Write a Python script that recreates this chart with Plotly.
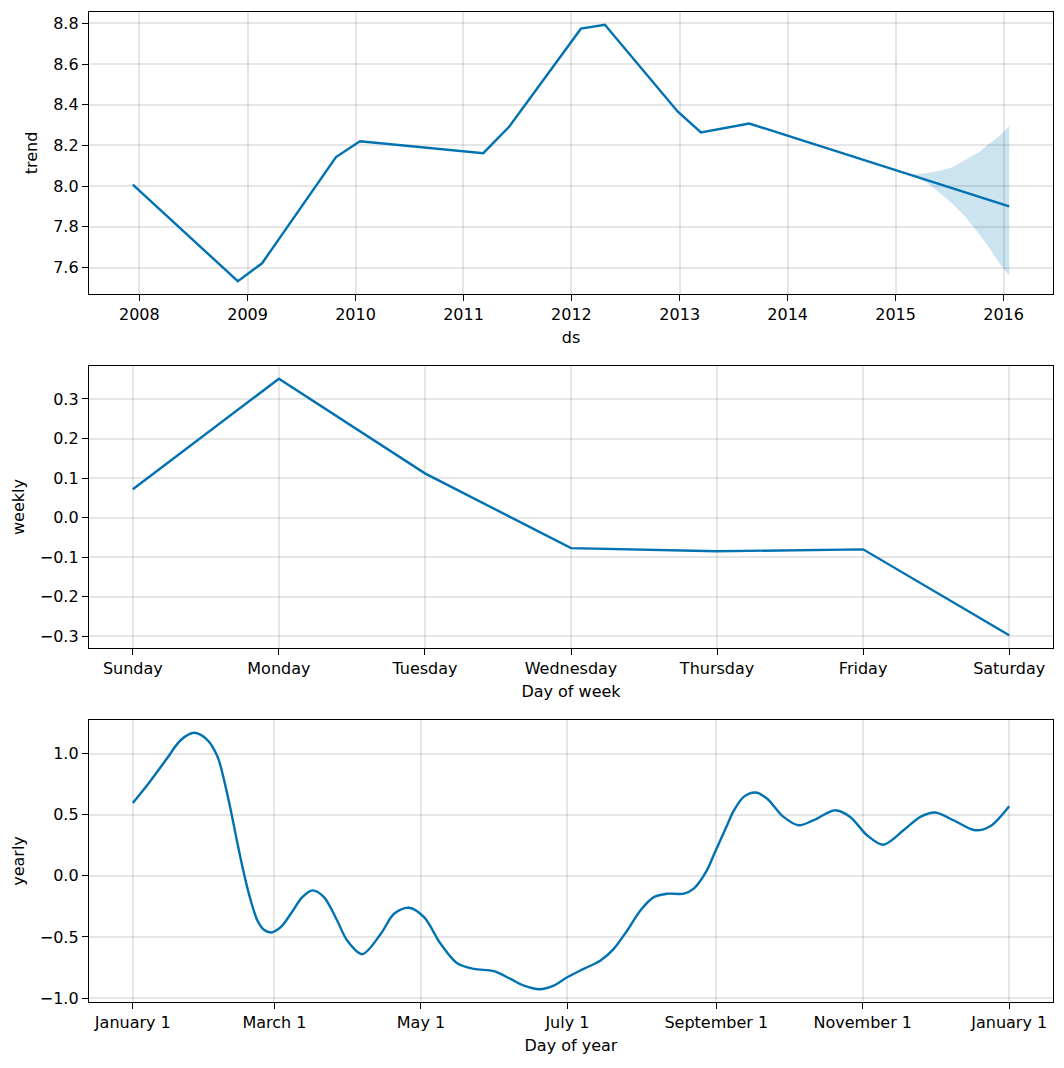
import pandas as pd
import plotly.graph_objects as go
from plotly.subplots import make_subplots

# ---------------- data ----------------
trend_dates = ["2007-12-10", "2008-11-29", "2009-02-19", "2009-10-27", "2010-01-16",
               "2011-03-09", "2011-06-05", "2012-02-02", "2012-04-23", "2012-12-25",
               "2013-03-14", "2013-08-24", "2016-01-20"]
trend_values = [8.007, 7.533, 7.621, 8.143, 8.221, 8.162, 8.293, 8.774, 8.793, 8.367,
                8.264, 8.308, 7.901]

band_dates = ["2015-01-20", "2015-02-28", "2015-04-14", "2015-05-28", "2015-07-12",
              "2015-08-26", "2015-10-10", "2015-11-13", "2015-12-16", "2016-01-20"]
band_upper = [8.072, 8.057, 8.064, 8.074, 8.093, 8.130, 8.167, 8.208, 8.243, 8.294]
band_lower = [8.072, 8.050, 8.019, 7.970, 7.913, 7.847, 7.765, 7.699, 7.625, 7.560]

week_days = ["Sunday", "Monday", "Tuesday", "Wednesday", "Thursday", "Friday", "Saturday"]
weekly_values = [0.072, 0.351, 0.112, -0.077, -0.085, -0.080, -0.297]

year_days = [0, 6.7, 13.9, 20.0, 25.5, 31.1, 35.3, 38.0, 40.8, 43.6, 46.3, 49.1, 51.9,
             54.6, 57.7, 61.6, 65.8, 70.6, 74.8, 79.6, 85.1, 89.3, 95.6, 103.3, 108.8,
             115.0, 121.3, 128.2, 135.1, 142.1, 150.4, 157.3, 162.9, 169.5, 175.0,
             180.9, 187.8, 194.8, 200.3, 205.9, 211.4, 217.0, 222.5, 229.5, 233.6,
             239.1, 241.9, 244.7, 247.5, 250.2, 254.4, 259.3, 264.1, 271.0, 277.3,
             283.5, 292.6, 298.8, 305.8, 312.5, 321.0, 328.0, 334.2, 341.8, 350.9,
             357.1, 365.0]
yearly_values = [0.596, 0.760, 0.951, 1.111, 1.170, 1.111, 0.974, 0.783, 0.537, 0.264,
                 0.018, -0.201, -0.365, -0.441, -0.463, -0.420, -0.310, -0.174, -0.119,
                 -0.174, -0.365, -0.529, -0.640, -0.474, -0.310, -0.261, -0.338, -0.556,
                 -0.715, -0.761, -0.780, -0.843, -0.898, -0.927, -0.900, -0.830, -0.761,
                 -0.693, -0.597, -0.447, -0.283, -0.174, -0.146, -0.146, -0.105, 0.045,
                 0.168, 0.291, 0.414, 0.529, 0.646, 0.682, 0.633, 0.482, 0.414, 0.455,
                 0.537, 0.482, 0.332, 0.255, 0.373, 0.482, 0.518, 0.455, 0.373, 0.406,
                 0.570]

year_ticks = ["2008", "2009", "2010", "2011", "2012", "2013", "2014", "2015", "2016"]
month_tick_dates = ["2017-01-01", "2017-03-01", "2017-05-01", "2017-07-01",
                    "2017-09-01", "2017-11-01", "2018-01-01"]
month_tick_labels = ["January 1", "March 1", "May 1", "July 1", "September 1",
                     "November 1", "January 1"]

trend_ticks = [7.6, 7.8, 8.0, 8.2, 8.4, 8.6, 8.8]
weekly_ticks = [-0.3, -0.2, -0.1, 0.0, 0.1, 0.2, 0.3]
yearly_ticks = [-1.0, -0.5, 0.0, 0.5, 1.0]

# ---------------- helpers ----------------
LINE = "#0072B2"
FONT = "DejaVu Sans"
FS = 16


def fmt(v, nd=1):
    s = f"{v:.{nd}f}"
    return s.replace("-", "\u2212")


def pad_range(lo, hi, frac=0.05):
    span = hi - lo
    return [lo - frac * span, hi + frac * span]


fig = make_subplots(rows=3, cols=1, vertical_spacing=0.0725)

# trend
td = pd.to_datetime(trend_dates)
bd = pd.to_datetime(band_dates)
fig.add_trace(go.Scatter(x=bd, y=band_upper, mode="lines", line=dict(width=0, color=LINE),
                         showlegend=False, hoverinfo="skip"), row=1, col=1)
fig.add_trace(go.Scatter(x=bd, y=band_lower, mode="lines", line=dict(width=0, color=LINE),
                         fill="tonexty", fillcolor="rgba(0,114,178,0.2)",
                         showlegend=False, hoverinfo="skip"), row=1, col=1)
fig.add_trace(go.Scatter(x=td, y=trend_values, mode="lines",
                         line=dict(color=LINE, width=2.4), showlegend=False), row=1, col=1)

# weekly
fig.add_trace(go.Scatter(x=list(range(len(week_days))), y=weekly_values, mode="lines",
                         line=dict(color=LINE, width=2.4), showlegend=False), row=2, col=1)

# yearly
yd = pd.Timestamp("2017-01-01") + pd.to_timedelta(year_days, unit="D")
fig.add_trace(go.Scatter(x=yd, y=yearly_values, mode="lines",
                         line=dict(color=LINE, width=2.4, shape="spline", smoothing=0.9),
                         showlegend=False), row=3, col=1)

# ranges (matplotlib-like 5% margins)
t_all = list(td) + list(bd)
t0, t1 = min(t_all), max(t_all)
tspan = t1 - t0
trend_xr = [t0 - 0.05 * tspan, t1 + 0.05 * tspan]
trend_yr = pad_range(min(trend_values + band_lower), max(trend_values + band_upper))
week_xr = pad_range(0, len(week_days) - 1)
week_yr = pad_range(min(weekly_values), max(weekly_values))
y0, y1 = min(yd), max(yd)
yspan = y1 - y0
year_xr = [y0 - 0.05 * yspan, y1 + 0.05 * yspan]
year_yr = pad_range(min(yearly_values), max(yearly_values))

axis_common = dict(showline=True, mirror=True, linecolor="black", linewidth=1.3,
                   ticks="outside", ticklen=6, tickwidth=1.2, tickcolor="black",
                   showgrid=True, gridcolor="rgba(128,128,128,0.2)", gridwidth=1.6,
                   zeroline=False, tickfont=dict(family=FONT, size=FS, color="black"),
                   title_font=dict(family=FONT, size=FS, color="black"))

fig.update_xaxes(**axis_common)
fig.update_yaxes(**axis_common)

XSO = 8
YSO = 11
fig.update_xaxes(row=1, col=1, range=trend_xr, type="date",
                 tickvals=[pd.Timestamp(f"{y}-01-01") for y in year_ticks],
                 ticktext=year_ticks, title_text="ds", title_standoff=XSO)
fig.update_yaxes(row=1, col=1, range=trend_yr, tickvals=trend_ticks,
                 ticktext=[fmt(v) for v in trend_ticks], title_text="trend", title_standoff=YSO)

fig.update_xaxes(row=2, col=1, range=week_xr, tickvals=list(range(len(week_days))),
                 ticktext=week_days, title_text="Day of week", title_standoff=XSO)
fig.update_yaxes(row=2, col=1, range=week_yr, tickvals=weekly_ticks,
                 ticktext=[fmt(v) for v in weekly_ticks], title_text="weekly", title_standoff=YSO)

fig.update_xaxes(row=3, col=1, range=year_xr, type="date",
                 tickvals=pd.to_datetime(month_tick_dates), ticktext=month_tick_labels,
                 title_text="Day of year", title_standoff=XSO)
fig.update_yaxes(row=3, col=1, range=year_yr, tickvals=yearly_ticks,
                 ticktext=[fmt(v) for v in yearly_ticks], title_text="yearly", title_standoff=YSO)

# layout (page body has an 8px margin, so the figure is offset by it)
W, H = 1056, 1060
L, T = 81, 4
PLOT_W, PLOT_H = 964, 990
H_PLOT = float(PLOT_H)
fig.update_layout(
    yaxis=dict(domain=[(990 - 282) / H_PLOT, 1.0]),
    yaxis2=dict(domain=[(990 - 636) / H_PLOT, (990 - 354) / H_PLOT]),
    yaxis3=dict(domain=[0.0, 282 / H_PLOT]),
    width=W, height=H,
    margin=dict(l=L, r=W - L - PLOT_W, t=T, b=H - T - PLOT_H, autoexpand=False),
    plot_bgcolor="white", paper_bgcolor="white",
    font=dict(family=FONT, size=FS, color="black"),
    showlegend=False,
)

fig.write_html("out.html")
